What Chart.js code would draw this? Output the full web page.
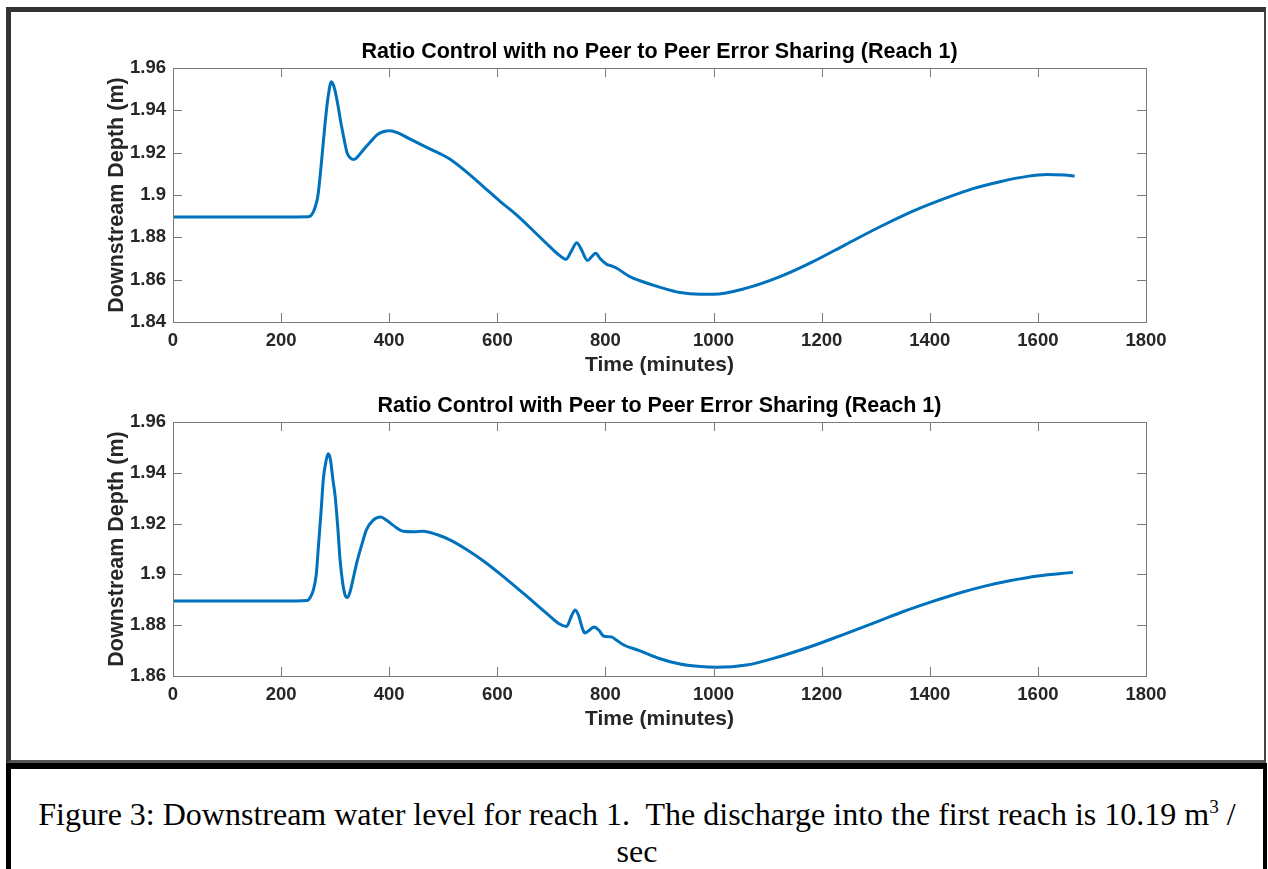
<!DOCTYPE html>
<html>
<head>
<meta charset="utf-8">
<script src="https://cdn.jsdelivr.net/npm/chart.js@4/dist/chart.umd.min.js"></script>
<style>
  body { margin: 0; background: #fff; width: 1268px; height: 869px; overflow: hidden; position: relative; }
  #frame {
    position: absolute; left: 6px; top: 7px; width: 1260px; height: 756px; box-sizing: border-box;
    border-top: 5px solid #333; border-left: 5px solid #333; border-right: 2px solid #444; border-bottom: 3px solid #555;
  }
  #caption {
    position: absolute; left: 6px; top: 763px; width: 1261px; height: 120px; box-sizing: border-box;
    border-top: 6px solid #000; border-left: 5px solid #000; border-right: 4px solid #000;
    font-family: 'Liberation Serif', 'Times New Roman', serif; font-size: 32px; line-height: 37px;
    text-align: center; padding-top: 27px; color: #000; white-space: nowrap;
  }
  #caption sup { font-size: 0.6em; line-height: 0; vertical-align: 0.6em; }
  canvas { position: absolute; left: 0; }
</style>
</head>
<body>
<div id="frame"></div>
<canvas id="top" width="1268" height="382" style="top:0px"></canvas>
<canvas id="bottom" width="1268" height="382" style="top:354px"></canvas>
<div id="caption">Figure 3: Downstream water level for reach 1.&nbsp; The discharge into the first reach is 10.19 m<sup>3</sup> /<br>sec</div>
<script>
/* global Chart */

// reach 1 downstream depth, no peer-to-peer error sharing
const timeNoShare = [0, 100, 200, 250, 256, 262, 268, 275, 281, 287, 293, 298, 304, 310, 316, 322, 328, 335,
  343, 352, 365, 378, 390, 401, 415, 438, 475, 512, 540, 574, 605, 636, 667, 697, 715, 727, 737, 747, 755,
  767, 775, 782, 790, 802, 812, 821, 845, 864, 897, 938, 975, 1000, 1061, 1123, 1184, 1246, 1308, 1370,
  1437, 1480, 1530, 1580, 1616, 1650, 1668]
const depthNoShare = [1.8896, 1.8896, 1.8896, 1.8897, 1.8905, 1.8935, 1.8995, 1.9165, 1.933, 1.9465, 1.9535,
  1.951, 1.944, 1.935, 1.927, 1.920, 1.9175, 1.9168, 1.9185, 1.9213, 1.925, 1.9285, 1.9300, 1.9304, 1.9295,
  1.9265, 1.9218, 1.9170, 1.9115, 1.904, 1.897, 1.8905, 1.883, 1.8756, 1.8715, 1.8696, 1.8735, 1.8775, 1.8745,
  1.869, 1.871, 1.8725, 1.870, 1.8673, 1.8664, 1.8654, 1.8614, 1.8595, 1.8567, 1.8539, 1.8531, 1.8531,
  1.8560, 1.8614, 1.8685, 1.8768, 1.8850, 1.8925, 1.8992, 1.9030, 1.9063, 1.9088, 1.9097, 1.9094, 1.9090]

// reach 1 downstream depth, with peer-to-peer error sharing
const timeShare = [0, 100, 200, 248, 254, 260, 265, 269, 274, 278, 283, 287, 291, 296, 300, 305, 309, 314,
  319, 323, 328, 334, 340, 349, 358, 370, 384, 396, 408, 426, 445, 463, 488, 515, 543, 575, 605, 650, 697,
  715, 728, 737, 744, 750, 757, 762, 770, 779, 788, 796, 804, 811, 820, 833, 864, 898, 938, 970, 1006, 1061,
  1123, 1184, 1246, 1308, 1350, 1400, 1450, 1500, 1550, 1600, 1665]
const depthShare = [1.8895, 1.8895, 1.8895, 1.8897, 1.8910, 1.8941, 1.900, 1.911, 1.925, 1.9373, 1.9445,
  1.9475, 1.9455, 1.937, 1.9307, 1.918, 1.9059, 1.8965, 1.8915, 1.8909, 1.8935, 1.899, 1.9046, 1.9115,
  1.9176, 1.9213, 1.9226, 1.9212, 1.9192, 1.917, 1.9168, 1.917, 1.9157, 1.9133, 1.9098, 1.9052, 1.9002,
  1.8922, 1.8836, 1.8805, 1.8795, 1.8835, 1.886, 1.884, 1.879, 1.8769, 1.878, 1.8793, 1.878, 1.8758, 1.8755,
  1.8754, 1.8742, 1.8723, 1.8699, 1.867, 1.8647, 1.8638, 1.8634, 1.8643, 1.8677, 1.8719, 1.8768, 1.8818,
  1.8853, 1.8890, 1.8924, 1.8953, 1.8976, 1.8994, 1.9008]

const xTicks = [0, 200, 400, 600, 800, 1000, 1200, 1400, 1600, 1800]
const yTicksNoShare = [1.84, 1.86, 1.88, 1.90, 1.92, 1.94, 1.96]
const yTicksShare = [1.86, 1.88, 1.90, 1.92, 1.94, 1.96]

const FONT = "'Liberation Sans', Arial, sans-serif"
const INK = '#262626'

// box round the plot area with MATLAB style inward ticks
const axesBox = {
  id: 'axesBox',
  afterDraw (chart) {
    const { ctx, chartArea: a, scales } = chart
    const len = 9
    ctx.save()
    ctx.strokeStyle = '#7a7a7a'
    ctx.lineWidth = 1
    ctx.strokeRect(Math.round(a.left) + 0.5, Math.round(a.top) + 0.5,
      Math.round(a.right - a.left), Math.round(a.bottom - a.top))
    ctx.beginPath()
    scales.x.ticks.forEach(t => {
      const x = Math.round(scales.x.getPixelForValue(t.value)) + 0.5
      ctx.moveTo(x, a.bottom); ctx.lineTo(x, a.bottom - len)
      ctx.moveTo(x, a.top); ctx.lineTo(x, a.top + len)
    })
    scales.y.ticks.forEach(t => {
      const y = Math.round(scales.y.getPixelForValue(t.value)) + 0.5
      ctx.moveTo(a.left, y); ctx.lineTo(a.left + len, y)
      ctx.moveTo(a.right, y); ctx.lineTo(a.right - len, y)
    })
    ctx.stroke()
    ctx.restore()
  }
}

const makeChart = (id, title, times, depths, yTicks) => new Chart(document.getElementById(id), {
  type: 'line',
  data: {
    datasets: [{
      data: times.map((t, i) => ({ x: t, y: depths[i] })),
      borderColor: '#0072BD',
      borderWidth: 3,
      pointRadius: 0,
      cubicInterpolationMode: 'monotone'
    }]
  },
  options: {
    responsive: false,
    animation: false,
    layout: { padding: { left: 0, right: 122, top: 0, bottom: 0 } },
    plugins: {
      legend: { display: false },
      tooltip: { enabled: false },
      title: {
        display: true,
        fullSize: false,
        text: title,
        color: '#000',
        font: { family: FONT, size: 21.5, weight: 'bold' },
        padding: { top: 39.1, bottom: 3.1 }
      }
    },
    scales: {
      x: {
        type: 'linear',
        min: 0,
        max: 1800,
        afterBuildTicks: s => { s.ticks = xTicks.map(v => ({ value: v })) },
        afterFit: s => { s.height = 60 },
        grid: { display: false, drawTicks: false },
        border: { display: false },
        ticks: {
          color: INK,
          padding: 8,
          maxRotation: 0,
          font: { family: FONT, size: 18.5, weight: 'bold' },
          callback: v => String(v)
        },
        title: {
          display: true,
          text: 'Time (minutes)',
          color: INK,
          font: { family: FONT, size: 21, weight: 'bold' },
          padding: { top: 0, bottom: 4.4 }
        }
      },
      y: {
        min: yTicks[0],
        max: yTicks[yTicks.length - 1],
        afterBuildTicks: s => { s.ticks = yTicks.map(v => ({ value: v })) },
        afterFit: s => { s.width = 173 },
        grid: { display: false, drawTicks: false },
        border: { display: false },
        ticks: {
          color: INK,
          padding: 7,
          font: { family: FONT, size: 18.5, weight: 'bold' },
          callback: v => String(+v.toFixed(2))
        },
        title: {
          display: true,
          text: 'Downstream Depth (m)',
          color: INK,
          font: { family: FONT, size: 21.5, weight: 'bold' },
          padding: { top: 104, bottom: 0 }
        }
      }
    }
  },
  plugins: [axesBox]
})

makeChart('top', 'Ratio Control with no Peer to Peer Error Sharing (Reach 1)', timeNoShare, depthNoShare, yTicksNoShare)
makeChart('bottom', 'Ratio Control with Peer to Peer Error Sharing (Reach 1)', timeShare, depthShare, yTicksShare)
</script>
</body>
</html>
